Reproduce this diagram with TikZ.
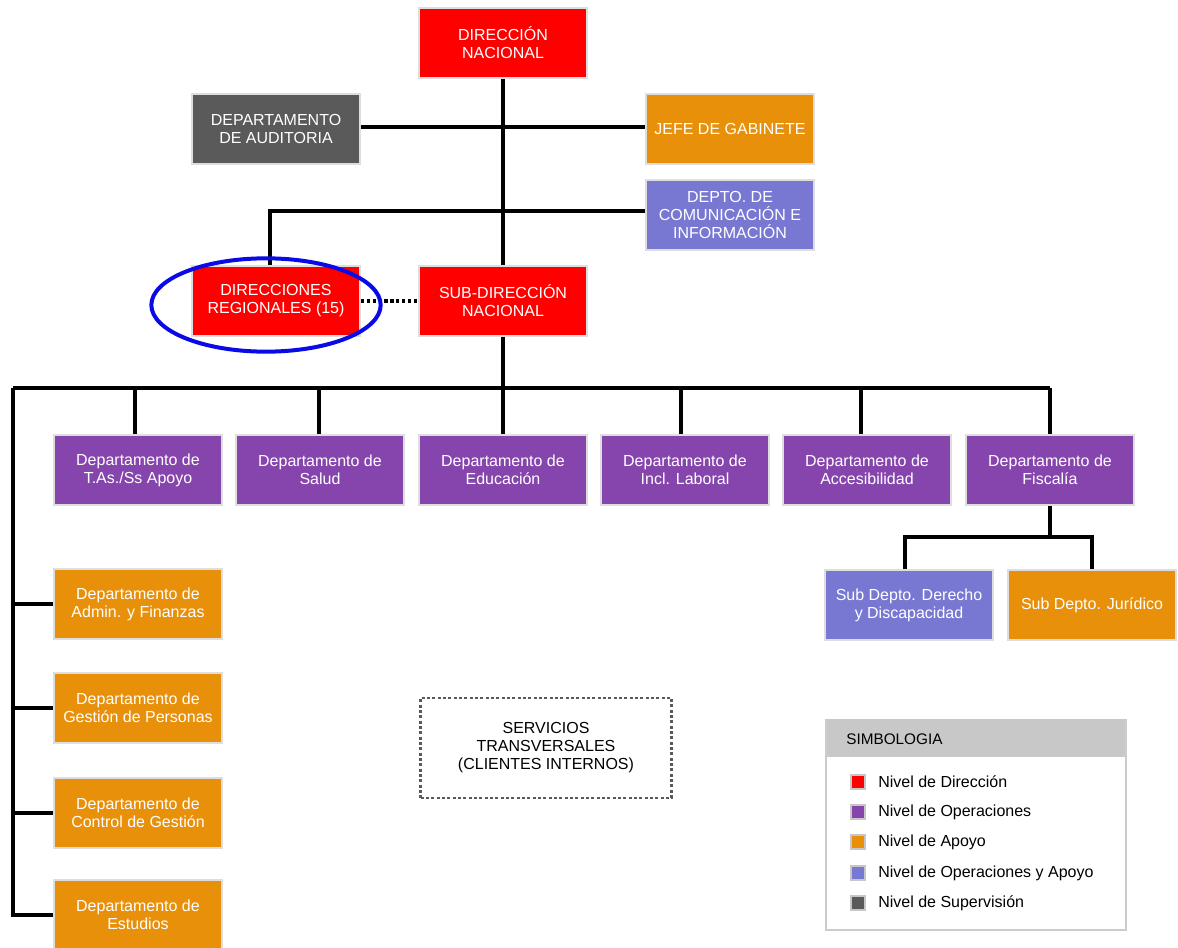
\documentclass[tikz,border=0pt]{standalone}
\usepackage{fontspec}
\setmainfont{Liberation Sans}
\usetikzlibrary{shapes.geometric}
\definecolor{cRed}{HTML}{FF0000}
\definecolor{cGray}{HTML}{5A5A5A}
\definecolor{cOrange}{HTML}{E8900A}
\definecolor{cLav}{HTML}{7878D2}
\definecolor{cPurple}{HTML}{8645AC}
\definecolor{cBlue}{HTML}{0A0AE6}
\definecolor{cHead}{HTML}{C8C8C8}
\begin{document}
\begin{tikzpicture}[x=0.75pt,y=-0.75pt,
  box/.style={draw=black!13, line width=1.5pt, minimum width=126pt, minimum height=52.5pt,
    inner sep=0pt, align=center, text=white, font=\fontsize{12}{13.5}\selectfont},
  red/.style={box, fill=cRed},
  sup/.style={box, fill=cGray},
  apo/.style={box, fill=cOrange},
  opap/.style={box, fill=cLav},
  ope/.style={box, fill=cPurple},
  conn/.style={draw=black, line width=2.4pt},
  dotconn/.style={draw=black, line width=2.6pt, dash pattern=on 2.4pt off 2pt},
  legsq/.style={draw=black!22, line width=1.2pt, minimum size=10.5pt, inner sep=0pt},
  legtxt/.style={anchor=west, inner sep=0pt, font=\fontsize{12}{14}\selectfont}
]
\useasboundingbox (0,0) rectangle (1178,948);
\clip (0,0) rectangle (1178,948);
\fill[white] (0,0) rectangle (1178,948);

% top level
\node[red] (dn) at (503,43) {DIRECCIÓN\\NACIONAL};
\node[sup] (aud) at (276,129) {DEPARTAMENTO\\DE AUDITORIA};
\node[apo] (jefe) at (730,129) {JEFE DE GABINETE};
\node[opap] (com) at (730,215) {DEPTO. DE\\COMUNICACIÓN E\\INFORMACIÓN};
\node[red] (dr) at (276,301) {DIRECCIONES\\REGIONALES (15)};
\node[red] (sdn) at (503,301) {SUB-DIRECCIÓN\\NACIONAL};

% departments row
\node[ope] (d1) at (138,470) {Departamento de\\T.As./Ss Apoyo};
\node[ope] (d2) at (320,470) {Departamento de\\Salud};
\node[ope] (d3) at (503,470) {Departamento de\\Educación};
\node[ope] (d4) at (685,470) {Departamento de\\Incl. Laboral};
\node[ope] (d5) at (867,470) {Departamento de\\Accesibilidad};
\node[ope] (d6) at (1050,470) {Departamento de\\Fiscalía};

% sub departments
\node[opap] (s1) at (909,605) {Sub Depto. Derecho\\y Discapacidad};
\node[apo] (s2) at (1092,605) {Sub Depto. Jurídico};

% left column
\node[apo] (a1) at (138,604) {Departamento de\\Admin. y Finanzas};
\node[apo] (a2) at (138,708) {Departamento de\\Gestión de Personas};
\node[apo] (a3) at (138,813) {Departamento de\\Control de Gestión};
\node[apo] (a4) at (138,915) {Departamento de\\Estudios};

% connectors
\draw[conn] (dn.south) -- (sdn.north);
\draw[conn] ([yshift=1.5pt]aud.east) -- ([yshift=1.5pt]jefe.west);
\coordinate (cb) at (270,211);
\draw[conn] ([yshift=3pt]com.west) -- (cb) -- (cb |- dr.north);
\draw[dotconn] (dr.east) -- (sdn.west);
\coordinate (bus) at (503,388);
\coordinate (busL) at (13,388);
\coordinate (busR) at (1050,388);
\draw[conn] (sdn.south) -- (bus);
\draw[conn] (busL) -- (busR);
\foreach \d/\dx in {d1/-3,d2/-1,d4/-4,d5/-6,d6/0} {\draw[conn] ([xshift=\dx*0.75pt]\d.north |- bus) -- ([xshift=\dx*0.75pt]\d.north);}
\draw[conn] (bus) -- (d3.north);
\draw[conn] (busL) |- (a4.west);
\foreach \a in {a1,a2,a3} {\draw[conn] (\a.west -| busL) -- (\a.west);}
\coordinate (fb) at (1050,537);
\draw[conn] (d6.south) -- (fb);
\draw[conn] ([xshift=-3pt]s1.north) |- (fb) -| (s2.north);

% highlight ellipse
\node[draw=cBlue, line width=3pt, ellipse, minimum width=172pt, minimum height=70pt, inner sep=0pt] (hl) at (266,305) {};

% servicios transversales
\node[draw=black!65, line width=2.2pt, dash pattern=on 2.2pt off 1.8pt, minimum width=188pt, minimum height=75pt, align=center,
  font=\fontsize{12}{13.5}\selectfont] (serv) at (546,748) {SERVICIOS\\TRANSVERSALES\\(CLIENTES INTERNOS)};

% legend
\node[draw=black!20, line width=1pt, fill=white, minimum width=225pt, minimum height=158pt, inner sep=0pt] (leg) at (976,824.5) {};
\node[fill=cHead, minimum width=224pt, minimum height=28pt, inner sep=0pt, anchor=north] (legh) at ([yshift=-0.5pt]leg.north) {};
\node[legtxt, font=\fontsize{11.5}{13}\selectfont] (legt) at (846,739) {SIMBOLOGIA};
\node[legsq, fill=cRed] (q1) at (858,782) {};
\node[legsq, fill=cPurple] (q2) at (858,812) {};
\node[legsq, fill=cOrange] (q3) at (858,842) {};
\node[legsq, fill=cLav] (q4) at (858,873) {};
\node[legsq, fill=cGray] (q5) at (858,903) {};
\node[legtxt] (l1) at (878,782) {Nivel de Dirección};
\node[legtxt] (l2) at (878,812) {Nivel de Operaciones};
\node[legtxt] (l3) at (878,842) {Nivel de Apoyo};
\node[legtxt] (l4) at (878,873) {Nivel de Operaciones y Apoyo};
\node[legtxt] (l5) at (878,903) {Nivel de Supervisión};
\end{tikzpicture}
\end{document}
